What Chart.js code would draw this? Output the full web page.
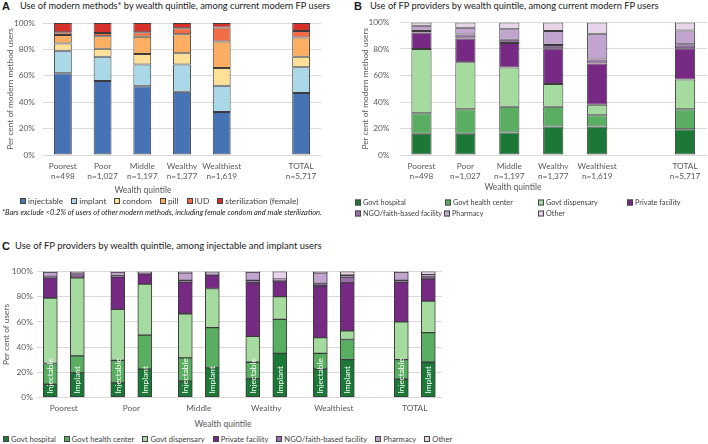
<!DOCTYPE html>
<html>
<head>
<meta charset="utf-8">
<script src="https://cdn.jsdelivr.net/npm/chart.js@4.4.0/dist/chart.umd.min.js"></script>
<style>
  body { margin: 0; background: #fff; font-family: Lato, "Open Sans", sans-serif; }
  #page { position: relative; width: 708px; height: 444px; overflow: hidden; }
  .txt { position: absolute; white-space: nowrap; line-height: 12px; }
  .ttl { font-size: 10px; color: #1a1a1a; }
  .letter { position: absolute; font-family: "Liberation Sans", Arial, sans-serif; font-size: 11px; font-weight: bold; color: #1a1a1a; line-height: 12px; }
  .axt { font-size: 8.5px; color: #595959; transform: translate(-50%, -50%); }
  .note { font-size: 7.4px; font-style: italic; color: #1a1a1a; }
  .legrow { position: absolute; display: flex; align-items: center; white-space: nowrap; transform: translateY(-50%); color: #404040; font-size: 8px; }
  .leg { display: flex; align-items: center; white-space: nowrap; }
  .legB { position: absolute; transform: translateY(-50%); color: #404040; font-size: 7.3px; }
  .leg i { display: inline-block; width: 4px; height: 4px; border: 1px solid #444; margin-right: 2px; }
  canvas { position: absolute; }
</style>
</head>
<body>
<div id="page">
  <div class="letter" style="left:2px; top:0px;">A</div>
  <div class="letter" style="left:354px; top:0px;">B</div>
  <div class="letter" style="left:2px; top:240px;">C</div>
  <div class="txt ttl fit" data-w="310" style="left:20px; top:0px;">Use of modern methods* by wealth quintile, among current modern FP users</div>
  <div class="txt ttl fit" data-w="289" style="left:370px; top:0px;">Use of FP providers by wealth quintile, among current modern FP users</div>
  <div class="txt ttl fit" data-w="307" style="left:15px; top:240px;">Use of FP providers by wealth quintile, among injectable and implant users</div>

  <canvas id="chartA" width="354" height="186" style="left:0; top:0;"></canvas>
  <canvas id="chartB" width="354" height="186" style="left:354px; top:0;"></canvas>
  <canvas id="chartC" width="460" height="160" style="left:0; top:255px;"></canvas>

  <div class="txt axt" style="left:143px; top:190px;">Wealth quintile</div>
  <div class="txt axt" style="left:513px; top:187px;">Wealth quintile</div>
  <div class="txt axt" style="left:223px; top:424px;">Wealth quintile</div>

  <div id="legendA" class="legrow fit" data-w="282" style="left:20px; top:201px; gap:8px;"></div>
  <div id="legendB"></div>
  <div id="legendC" class="legrow fit" data-w="445" style="left:3px; top:439px; gap:8px;"></div>
  <div class="txt note fit" data-w="320" style="left:2px; top:207px;">*Bars exclude &lt;0.2% of users of other modern methods, including female condom and male sterilization.</div>
</div>

<script>
const FONT = 'Lato, "Open Sans", sans-serif';

const quintiles = ['Poorest', 'Poor', 'Middle', 'Wealthy', 'Wealthiest', 'TOTAL'];
const sampleSizes = ['n=498', 'n=1,027', 'n=1,197', 'n=1,377', 'n=1,619', 'n=5,717'];
const yTicks = [0, 20, 40, 60, 80, 100];

// A: method mix among current modern FP users (%)
const methodNames = ['injectable', 'implant', 'condom', 'pill', 'IUD', 'sterilization (female)'];
const methodColors = ['#4673b5', '#abd8e9', '#fee196', '#fcae62', '#f26d45', '#d8302a'];
const injectable = [62, 56, 52, 48, 32.5, 47];
const implant = [17, 18.5, 16.5, 20.5, 20, 19.5];
const condom = [5.5, 6, 8, 8.5, 13.5, 8];
const pill = [6.5, 9.5, 13, 14.5, 20, 14.5];
const iud = [2, 2.5, 3.5, 4.5, 10.5, 5];
const sterilization = [7, 7.5, 7, 4, 3.5, 6];

// B: provider among current modern FP users (%)
const providerNames = ['Govt hospital', 'Govt health center', 'Govt dispensary', 'Private facility', 'NGO/faith-based facility', 'Pharmacy', 'Other'];
const providerColors = ['#1b7837', '#5aae61', '#a6dba0', '#762a83', '#9970ab', '#c2a5cf', '#e7d4e8'];
const govtHospital = [16, 16, 17, 21.5, 21.5, 19.5];
const govtHealthCenter = [15.5, 18.5, 19.5, 15, 8.5, 15];
const govtDispensary = [48.5, 35.5, 29.5, 17, 8, 22.5];
const privateFacility = [12.5, 18, 18.5, 27, 31, 23.5];
const ngoFacility = [1, 3, 2.5, 2.5, 3, 3];
const pharmacy = [4, 5, 8, 10.5, 19.5, 10.5];
const otherProvider = [2.5, 4, 5, 6.5, 8.5, 6];

// C: provider among injectable users (%)
const injHospital = [10.5, 11.5, 13, 15, 22.5, 14.5];
const injHealthCenter = [16.5, 18, 18.5, 13, 12.5, 15.5];
const injDispensary = [52, 40.5, 35, 20.5, 12.5, 30];
const injPrivate = [16, 25.5, 25, 42.5, 41, 31.5];
const injNgo = [1, 1, 1.5, 2, 2, 1.5];
const injPharmacy = [3.5, 3, 6, 6.5, 8.5, 6.5];
const injOther = [0.5, 0.5, 1, 0.5, 1, 0.5];
// C: provider among implant users (%)
const impHospital = [19.5, 22.5, 23.5, 35, 30, 28];
const impHealthCenter = [13.5, 27, 32, 27, 16, 23.5];
const impDispensary = [62, 40.5, 31, 18, 7, 25];
const impPrivate = [1.5, 8, 10.5, 12, 38, 17.5];
const impNgo = [0.5, 0.5, 1, 1, 4.5, 2];
const impPharmacy = [2, 0.5, 1, 1, 1.5, 1.5];
const impOther = [1, 1, 1, 6, 3, 2.5];

// quintile axis with an empty slot before TOTAL
const withGap = arr => [...arr.slice(0, 5), null, arr[5]];
const labelsAB = withGap(quintiles.map((q, i) => [q, sampleSizes[i]]));
labelsAB[5] = ['', ''];

function makeStack(series, colors, barPct) {
  return series.map((s, i) => ({
    label: s.label,
    data: withGap(s.data),
    backgroundColor: colors[i],
    borderColor: '#3c3c3c',
    borderWidth: 1,
    borderSkipped: false,
    barPercentage: barPct,
    categoryPercentage: 1
  }));
}

function options(cfg) {
  return {
    responsive: false,
    animation: false,
    devicePixelRatio: 1,
    layout: { padding: { top: cfg.top, right: cfg.right, left: 0, bottom: 0 } },
    plugins: { legend: { display: false }, tooltip: { enabled: false } },
    scales: {
      x: {
        stacked: true,
        offset: cfg.offset,
        grid: { display: false, drawTicks: false },
        border: { display: false },
        ticks: {
          color: '#595959', font: { family: FONT, size: 8.3 }, padding: cfg.xPad,
          autoSkip: false, maxRotation: 0, minRotation: 0
        },
        afterFit: s => { s.height = cfg.xHeight; }
      },
      y: {
        stacked: true, min: 0, max: 100,
        afterBuildTicks: s => { s.ticks = yTicks.map(v => ({ value: v })); },
        grid: { color: '#d9d9d9', drawTicks: false },
        border: { display: false },
        ticks: { color: '#595959', font: { family: FONT, size: 8.3 }, padding: cfg.yPad, callback: v => v + '%' },
        title: {
          display: true, text: cfg.yTitle, color: '#595959',
          font: { family: FONT, size: 8.3 }, padding: { top: cfg.titlePad, bottom: 0 }
        },
        afterFit: s => { s.width = cfg.yWidth; }
      }
    }
  };
}

// Panel A
new Chart(document.getElementById('chartA'), {
  type: 'bar',
  data: {
    labels: labelsAB,
    datasets: makeStack([
      { label: methodNames[0], data: injectable },
      { label: methodNames[1], data: implant },
      { label: methodNames[2], data: condom },
      { label: methodNames[3], data: pill },
      { label: methodNames[4], data: iud },
      { label: methodNames[5], data: sterilization }
    ], methodColors, 0.45)
  },
  options: options({ top: 23, right: 33, offset: true, xPad: 6, xHeight: 31, yPad: 8, yWidth: 43, titlePad: 5, yTitle: 'Per cent of modern method users' })
});

// Panel B
const providerSeriesB = [govtHospital, govtHealthCenter, govtDispensary, privateFacility, ngoFacility, pharmacy, otherProvider];
new Chart(document.getElementById('chartB'), {
  type: 'bar',
  data: {
    labels: labelsAB,
    datasets: makeStack(providerSeriesB.map((d, i) => ({ label: providerNames[i], data: d })), providerColors, 0.46)
  },
  options: options({ top: 22.5, right: 1, offset: true, xPad: 6, xHeight: 31, yPad: 10, yWidth: 45.5, titlePad: 6.5, yTitle: 'Per cent of modern method users' })
});

// Panel C: injectable and implant bars side by side per quintile
const injSeries = [injHospital, injHealthCenter, injDispensary, injPrivate, injNgo, injPharmacy, injOther];
const impSeries = [impHospital, impHealthCenter, impDispensary, impPrivate, impNgo, impPharmacy, impOther];
const cLabels = [''];
const cSlots = [null];
quintiles.forEach((q, g) => {
  cLabels.push('', q, '');
  cSlots.push({ g, kind: 'Injectable' }, null, { g, kind: 'Implant' });
  const gap = g === quintiles.length - 1 ? 1 : (g === quintiles.length - 2 ? 3 : 2);
  for (let k = 0; k < gap; k++) { cLabels.push(''); cSlots.push(null); }
});

const barText = {
  id: 'barText',
  afterDatasetsDraw(chart) {
    const { ctx, chartArea } = chart;
    ctx.save();
    ctx.fillStyle = '#ffffff';
    ctx.font = '8.3px ' + FONT;
    ctx.textAlign = 'left';
    ctx.textBaseline = 'middle';
    cSlots.forEach((slot, i) => {
      if (!slot) return;
      const x = chart.scales.x.getPixelForValue(i);
      ctx.save();
      ctx.translate(x, chartArea.bottom - 4);
      ctx.rotate(-Math.PI / 2);
      ctx.fillText(slot.kind, 0, 0.5);
      ctx.restore();
    });
    ctx.restore();
  }
};

new Chart(document.getElementById('chartC'), {
  type: 'bar',
  data: {
    labels: cLabels,
    datasets: providerNames.map((name, p) => ({
      label: name,
      data: cSlots.map(s => s ? (s.kind === 'Injectable' ? injSeries[p][s.g] : impSeries[p][s.g]) : null),
      backgroundColor: providerColors[p],
      borderColor: '#3c3c3c',
      borderWidth: 1,
      borderSkipped: false,
      barThickness: 14
    }))
  },
  options: options({ top: 16.5, right: 18.2, offset: false, xPad: 6, xHeight: 17.5, yPad: 4, yWidth: 36.8, titlePad: 1, yTitle: 'Per cent of users' }),
  plugins: [barText]
});

// HTML legends built from the same names/colours
function legendItem(name, color) {
  const el = document.createElement('span');
  el.className = 'leg';
  el.innerHTML = '<i style="background:' + color + '"></i>' + name;
  return el;
}
methodNames.forEach((n, i) => document.getElementById('legendA').appendChild(legendItem(n, methodColors[i])));
providerNames.forEach((n, i) => document.getElementById('legendC').appendChild(legendItem(n, providerColors[i])));
const spotsB = [[355, 202], [445, 202], [538, 202], [627, 202], [355, 213], [444, 213], [538, 213]];
providerNames.forEach((n, i) => {
  const el = legendItem(n, providerColors[i]);
  el.classList.add('legB');
  el.style.left = spotsB[i][0] + 'px';
  el.style.top = spotsB[i][1] + 'px';
  document.getElementById('legendB').appendChild(el);
});

// scale text blocks to the widths they take in the original figure
function fitText() {
  document.querySelectorAll('.fit').forEach(el => {
    el.style.fontSize = '';
    const fs = parseFloat(getComputedStyle(el).fontSize);
    const w = el.getBoundingClientRect().width;
    el.style.fontSize = (fs * (+el.dataset.w) / w).toFixed(2) + 'px';
  });
}
fitText();
if (document.fonts) document.fonts.ready.then(fitText);
</script>
</body>
</html>
